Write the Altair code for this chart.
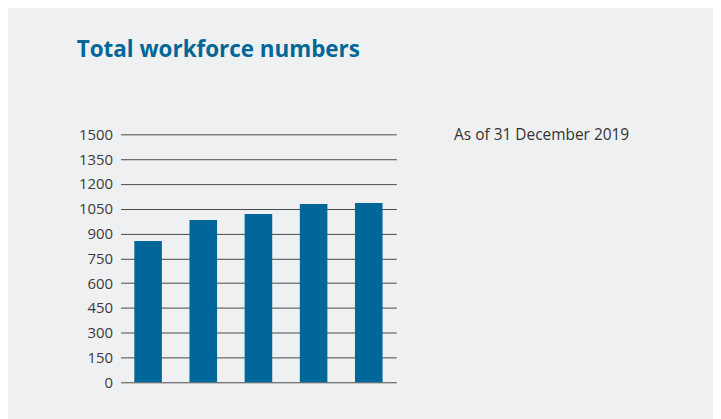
import altair as alt
import pandas as pd

years = ["2015", "2016", "2017", "2018", "2019"]
workforce = [855, 982, 1018, 1078, 1084]
y_ticks = [0, 150, 300, 450, 600, 750, 900, 1050, 1200, 1350, 1500]
note_text = ["As of 31 December 2019"]

df = pd.DataFrame({"year": years, "workforce": workforce})
note_df = pd.DataFrame({"note": note_text})

BLUE = "#006798"
BG = "#eff0f2"

bars = alt.Chart(df).mark_bar(color=BLUE).encode(
    x=alt.X("year:N", axis=None, sort=years,
            scale=alt.Scale(paddingInner=0.5, paddingOuter=0.25)),
    y=alt.Y("workforce:Q",
            scale=alt.Scale(domain=[0, 1500], nice=False),
            axis=alt.Axis(values=y_ticks, format="d", title=None, domain=False, ticks=False,
                          grid=True, gridColor="#4a4a4a", gridWidth=1, gridOpacity=1,
                          labelFont="Open Sans", labelFontSize=15, labelColor="#3c3c3c",
                          labelPadding=8)),
)

note = alt.Chart(note_df).mark_text(
    align="left", baseline="alphabetic", font="Open Sans", fontSize=15.5, color="#333333"
).encode(
    text="note:N",
    x=alt.value(335),
    y=alt.value(6),
)

chart = alt.layer(bars, note).properties(
    width=277,
    height=249,
    background=BG,
    padding={"left": 113, "top": 126, "right": 318, "bottom": 36},
    autosize=alt.AutoSizeParams(type="none"),
    title=alt.TitleParams(
        "Total workforce numbers",
        anchor="start",
        frame="group",
        dx=-44,
        offset=66,
        font="Open Sans",
        fontSize=22.5,
        fontWeight="bold",
        color=BLUE,
    ),
).configure_view(stroke=None)

chart.save("out.html", embed_options={"renderer": "svg", "actions": False})
